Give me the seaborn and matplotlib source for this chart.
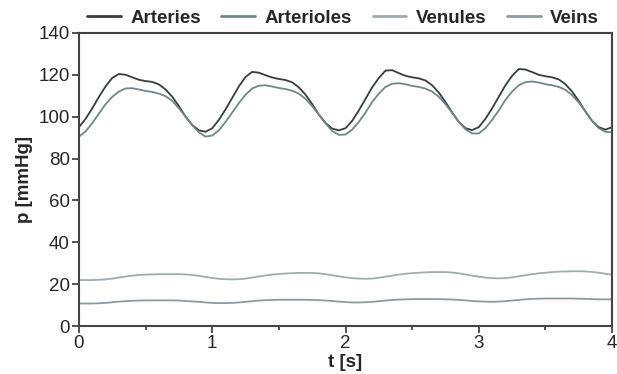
import numpy as np
import pandas as pd
import seaborn as sns
import matplotlib.pyplot as plt

# time grid [s], one sample every 0.05 s
t = np.linspace(0, 4, 81)

arteries = [
    95.0, 99.0, 104.0, 109.5, 114.5, 118.5, 120.4, 120.0, 118.8, 117.6,
    117.0, 116.6, 115.4, 113.0, 109.5, 105.0, 100.0, 96.0, 93.5, 92.8,
    94.5, 98.5, 103.5, 109.0, 114.5, 119.0, 121.4, 121.0, 119.8, 118.7,
    118.0, 117.5, 116.4, 114.0, 110.5, 106.0, 101.0, 97.0, 94.3, 93.5,
    94.5, 98.0, 103.0, 108.5, 114.0, 118.5, 122.0, 122.2, 120.8, 119.5,
    118.8, 118.3, 117.3, 115.0, 111.5, 107.0, 102.0, 97.5, 94.5, 93.6,
    95.0, 99.0, 104.0, 109.5, 115.0, 119.5, 122.8, 122.5, 121.3, 120.0,
    119.3, 118.8, 117.8, 115.5, 112.0, 107.5, 102.5, 98.0, 95.0, 93.8,
    95.0,
]
arterioles = [
    90.5, 93.0, 97.0, 101.5, 106.0, 109.5, 112.0, 113.5, 113.6, 113.0,
    112.3, 111.8, 111.0, 109.8, 107.5, 104.0, 100.0, 96.0, 92.5, 90.5,
    91.0, 93.5, 97.5, 102.0, 106.5, 110.5, 113.5, 114.8, 115.0, 114.4,
    113.7, 113.2, 112.4, 111.0, 108.5, 105.0, 101.0, 96.8, 93.2, 91.3,
    91.5, 93.8, 97.5, 102.0, 107.0, 111.0, 114.2, 115.7, 116.0, 115.5,
    114.7, 114.2, 113.4, 112.0, 109.5, 106.0, 101.8, 97.5, 94.0, 92.0,
    92.0, 94.5, 98.5, 103.0, 108.0, 112.0, 115.0, 116.5, 116.8, 116.3,
    115.5, 115.0, 114.2, 112.8, 110.3, 106.8, 102.5, 98.0, 94.5, 92.8,
    92.5,
]
venules = [
    22.0, 22.0, 22.0, 22.1, 22.3, 22.7, 23.2, 23.7, 24.1, 24.4,
    24.6, 24.7, 24.8, 24.8, 24.8, 24.8, 24.7, 24.4, 24.0, 23.5,
    23.0, 22.6, 22.4, 22.3, 22.4, 22.7, 23.2, 23.7, 24.2, 24.6,
    24.9, 25.1, 25.3, 25.4, 25.4, 25.4, 25.2, 24.8, 24.3, 23.8,
    23.3, 22.9, 22.7, 22.6, 22.7, 23.1, 23.6, 24.1, 24.6, 25.0,
    25.3, 25.5, 25.7, 25.8, 25.8, 25.8, 25.6, 25.2, 24.7, 24.1,
    23.6, 23.2, 22.9, 22.8, 22.9, 23.3, 23.8, 24.3, 24.8, 25.2,
    25.5, 25.8, 26.0, 26.1, 26.2, 26.2, 26.1, 25.9, 25.5, 25.0,
    24.6,
]
veins = [
    10.8, 10.8, 10.8, 10.9, 11.1, 11.4, 11.7, 11.9, 12.1, 12.2,
    12.3, 12.3, 12.3, 12.3, 12.3, 12.2, 12.0, 11.8, 11.6, 11.3,
    11.1, 11.0, 11.0, 11.1, 11.3, 11.6, 11.9, 12.2, 12.4, 12.5,
    12.6, 12.6, 12.6, 12.6, 12.6, 12.5, 12.4, 12.2, 12.0, 11.7,
    11.5, 11.3, 11.3, 11.4, 11.6, 11.9, 12.2, 12.5, 12.7, 12.8,
    12.9, 12.9, 12.9, 12.9, 12.9, 12.8, 12.7, 12.5, 12.3, 12.0,
    11.8, 11.7, 11.6, 11.7, 11.9, 12.2, 12.5, 12.8, 13.0, 13.1,
    13.2, 13.2, 13.2, 13.2, 13.2, 13.1, 13.0, 12.9, 12.8, 12.8,
    12.8,
]

vessels = ['Arteries', 'Arterioles', 'Venules', 'Veins']
colors = {'Arteries': '#373c3e', 'Arterioles': '#6f878b',
          'Venules': '#9cadb1', 'Veins': '#8a9ca1'}

df = pd.concat([
    pd.DataFrame({'t': t, 'p': vals, 'vessel': name})
    for name, vals in zip(vessels, [arteries, arterioles, venules, veins])
])

sns.set_style('ticks')
plt.rcParams['font.family'] = ['Liberation Sans', 'DejaVu Sans']

fig = plt.figure(figsize=(6.17, 3.74), dpi=100)
ax = fig.add_axes([0.128, 0.128, 0.864, 0.784])

sns.lineplot(data=df, x='t', y='p', hue='vessel', hue_order=vessels,
             palette=colors, linewidth=1.3, ax=ax, legend=False)

ax.set_xlim(0, 4)
ax.set_ylim(0, 140)
ax.set_xticks([0, 1, 2, 3, 4])
ax.set_xticks([0.5, 1.5, 2.5, 3.5], minor=True)
ax.set_yticks(range(0, 141, 20))
ax.tick_params(axis='both', which='major', direction='out', length=5,
               width=1.3, color='#444444', labelsize=13.5, pad=1.5)
ax.tick_params(axis='x', which='minor', direction='out', length=3,
               width=1.3, color='#444444')
for s in ax.spines.values():
    s.set_color('#444444')
    s.set_linewidth(1.5)

ax.set_xlabel('t [s]', fontsize=13.5, fontweight='bold', labelpad=1)
ax.set_ylabel('p [mmHg]', fontsize=13.5, fontweight='bold', labelpad=4)

handles = [plt.Line2D([], [], color=colors[v], linewidth=2) for v in vessels]
fig.legend(handles, vessels, loc='center', bbox_to_anchor=(0.556, 0.952),
           ncol=4, frameon=False, handlelength=1.8, handletextpad=0.5,
           columnspacing=1.1, prop={'size': 13.5, 'weight': 'bold'})

fig.savefig('out.png', dpi=100)
